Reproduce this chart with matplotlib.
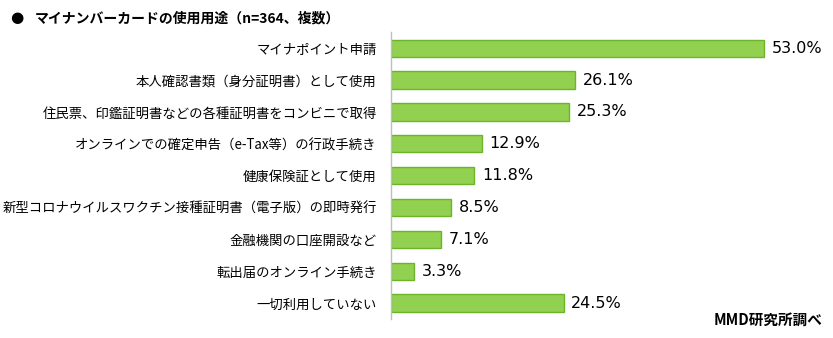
import matplotlib
matplotlib.use("Agg")
import matplotlib.pyplot as plt

plt.rcParams['font.family'] = ['Noto Sans CJK JP', 'DejaVu Sans']

categories = [
    "マイナポイント申請",
    "本人確認書類（身分証明書）として使用",
    "住民票、印鑑証明書などの各種証明書をコンビニで取得",
    "オンラインでの確定申告（e-Tax等）の行政手続き",
    "健康保険証として使用",
    "新型コロナウイルスワクチン接種証明書（電子版）の即時発行",
    "金融機関の口座開設など",
    "転出届のオンライン手続き",
    "一切利用していない",
]
values = [53.0, 26.1, 25.3, 12.9, 11.8, 8.5, 7.1, 3.3, 24.5]
title = "マイナンバーカードの使用用途（n=364、複数）"
source = "MMD研究所調べ"

W, H = 833, 338
fig = plt.figure(figsize=(W / 100, H / 100), dpi=100)
ax_left = 391.3 / W
ax_top = 32.3
ax_bottom = 319
ax = fig.add_axes([ax_left, 1 - ax_bottom / H, 1 - ax_left, (ax_bottom - ax_top) / H])

ypos = list(range(len(categories)))
ax.barh(ypos, values, height=0.545, color="#92D050", edgecolor="#6DB42C", linewidth=1.0)
ax.set_ylim(len(categories) - 0.5, -0.5)
ax.set_xlim(0, (W - 391.3) / 7.03)

for sp in ["top", "right", "bottom"]:
    ax.spines[sp].set_visible(False)
ax.spines["left"].set_color("#BFBFBF")
ax.spines["left"].set_linewidth(1.0)
ax.set_xticks([])
ax.set_yticks(ypos)
ax.set_yticklabels(categories, fontsize=9.6, color="black")
ax.tick_params(axis="y", length=0, pad=10.5)

for y, v in zip(ypos, values):
    ax.annotate(f"{v:.1f}%", (v, y), xytext=(5.5, 0), textcoords="offset points",
                va="center", ha="left", fontsize=11.5, family="DejaVu Sans", color="black")

fig.text(17 / W, 1 - 18 / H, "●", fontsize=11, ha="center", va="center",
         family="DejaVu Sans", color="black")
fig.text(35 / W, 1 - 18 / H, title, fontsize=10, fontweight="bold",
         ha="left", va="center", color="black")
fig.text(822.7 / W, 1 - 320 / H, source, fontsize=10.5, fontweight="bold",
         ha="right", va="center", color="black")

fig.savefig("out.png", dpi=100, facecolor="white")
